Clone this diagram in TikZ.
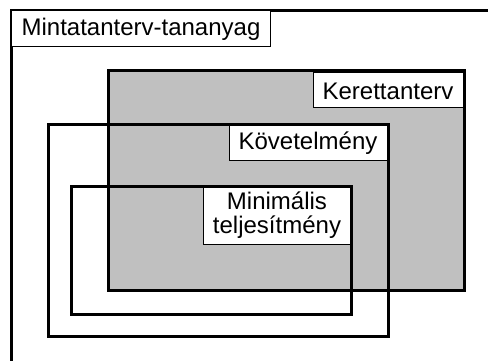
\documentclass[tikz,border=0pt]{standalone}
\usepackage{fontspec}
\setmainfont{Liberation Sans}
\definecolor{boxgray}{HTML}{C0C0C0}
\begin{document}
\begin{tikzpicture}[x=1pt,y=-1pt,
  frame/.style={draw=black,line width=3pt},
  lbl/.style={draw=black,fill=white,line width=1pt},
  txt/.style={font=\fontsize{24}{24}\selectfont,inner sep=0pt,align=center}]
\useasboundingbox (0,0) rectangle (488,361);
% outer frame (extends beyond picture)
\draw[frame] (11,375) -- (11,11) -- (500,11);
\draw[lbl] (11,11) rectangle (270,47);
\node[txt] (minta) at (141,29.5) {Mintatanterv-tananyag};
% Kerettanterv
\filldraw[frame,fill=boxgray] (108,71) rectangle (464,290);
\draw[lbl] (313,73) rectangle (463,108);
\node[txt] (keret) at (388,91) {Kerettanterv};
% Követelmény
\draw[frame] (48,125) rectangle (388,336);
\draw[lbl] (229,126) rectangle (387,160);
\node[txt] (kovet) at (308,143.5) {Követelmény};
% Minimális
\draw[frame] (71,186) rectangle (351,314);
\draw[lbl] (203,187) rectangle (350,244);
\node[txt] (mini) at (277,215.5) {Minimális\\teljesítmény};
\end{tikzpicture}
\end{document}
